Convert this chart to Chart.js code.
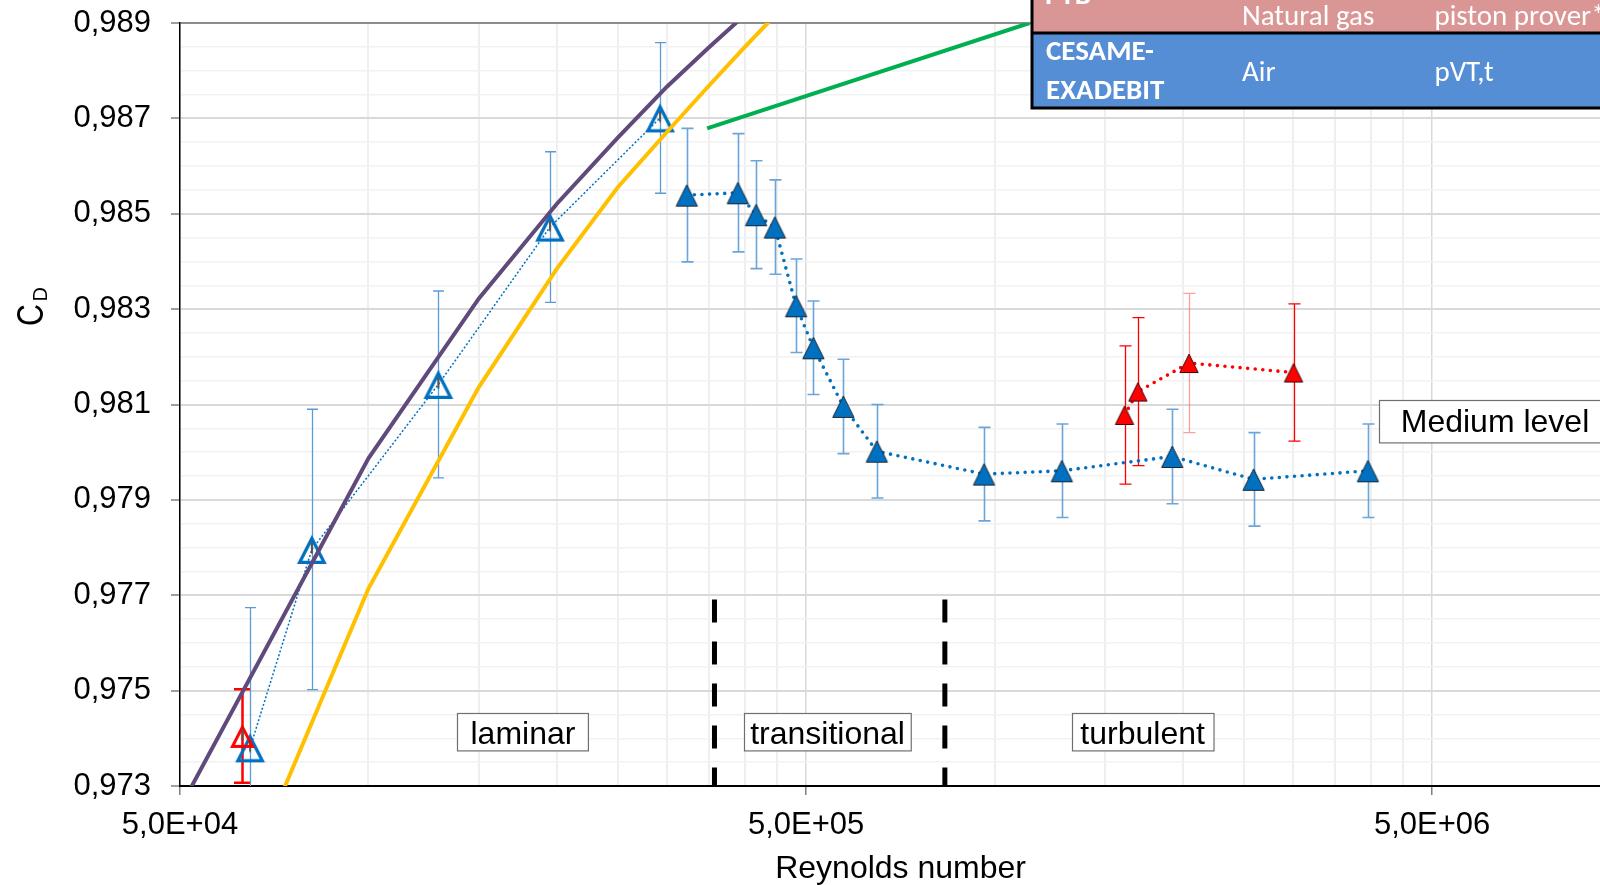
<!DOCTYPE html>
<html>
<head>
<meta charset="utf-8">
<script src="https://cdn.jsdelivr.net/npm/chart.js@4.4.1/dist/chart.umd.min.js"></script>
<style>
  html, body { margin: 0; padding: 0; background: #ffffff; }
  #wrap { width: 1600px; height: 885px; position: relative; }
  canvas { display: block; }
</style>
</head>
<body>
<div id="wrap"><canvas id="cd" width="1600" height="885"></canvas></div>
<script>
// Discharge coefficient C_D of the nozzle versus Reynolds number.

// Low Reynolds numbers, air (open blue triangles)
const reLowAir = [6.47e4, 8.12e4, 1.293e5, 1.95e5, 2.923e5];
const cdLowAir = [0.97380, 0.97796, 0.98142, 0.98472, 0.98701];
const uLowAir  = [0.00294, 0.00294, 0.00196, 0.00158, 0.00158];

// Single low Reynolds point (open red triangle)
const reLowGas = [6.29e4];
const cdLowGas = [0.97405];
const uLowGas  = [0.00098];

// CESAME-EXADEBIT, air (filled blue triangles)
const reAir = [3.224e5, 3.89e5, 4.16e5, 4.457e5, 4.82e5, 5.137e5, 5.735e5, 6.486e5,
               9.62e5, 1.281e6, 1.922e6, 2.593e6, 3.948e6];
const cdAir = [0.98539, 0.98544, 0.98498, 0.98472, 0.98307, 0.98219, 0.98096, 0.98002,
               0.97954, 0.97961, 0.97991, 0.97943, 0.97961];
const uAir  = [0.00140, 0.00124, 0.00113, 0.00099, 0.00098, 0.00098, 0.00099, 0.00098,
               0.00098, 0.00098, 0.00099, 0.00098, 0.00098];

// PTB, natural gas (filled red triangles)
const reGas = [1.613e6, 1.694e6, 2.045e6, 3.003e6];
const cdGas = [0.98078, 0.98127, 0.98187, 0.98167];
const uGas  = [0.00145, 0.00155, 0.00146, 0.00144];

// Reference curves
const reCurvePurple = [5e4, 1e5, 1.5e5, 2e5, 2.5e5, 3e5, 3.5e5, 4e5];
const cdCurvePurple = [0.97254, 0.97987, 0.98322, 0.98521, 0.98659, 0.98767, 0.98849, 0.98918];
const reCurveYellow = [5e4, 1e5, 1.5e5, 2e5, 2.5e5, 3e5, 3.5e5, 4e5, 4.5e5];
const cdCurveYellow = [0.96778, 0.97714, 0.98136, 0.98385, 0.98555, 0.98672, 0.98769, 0.98851, 0.98921];
const reCurveGreen  = [3.475e5, 1.137e6];
const cdCurveGreen  = [0.98679, 0.98900];

// Flow regime boundaries
const reRegimeBounds = [3.57e5, 8.33e5];
const cdRegimeSpan   = [0.97691, 0.973];

// Axis ticks
const xMin = 5e4, xMax = 9.27e6;
const yMin = 0.973, yMax = 0.989;
const xTickValues = [5e4, 5e5, 5e6];
const xTickLabels = ['5,0E+04', '5,0E+05', '5,0E+06'];
const yTickValues = [0.973, 0.975, 0.977, 0.979, 0.981, 0.983, 0.985, 0.987, 0.989];
const yTickLabels = ['0,973', '0,975', '0,977', '0,979', '0,981', '0,983', '0,985', '0,987', '0,989'];

// Facility table
const tableRows = [
  ['PTB', 'Natural gas', 'piston prover*'],
  ['CESAME-\nEXADEBIT', 'Air', 'pVT,t']
];

// Text boxes placed in data coordinates
const regimeBoxes = [
  { text: 'laminar',      re: 1.765e5, cd: 0.97413, padX: 13,  h: 37.4 },
  { text: 'transitional', re: 5.41e5,  cd: 0.97413, padX: 6,   h: 37.4 },
  { text: 'turbulent',    re: 1.724e6, cd: 0.97413, padX: 8.5, h: 37.4 },
  { text: 'Medium level', re: 6.30e6,  cd: 0.98066, padX: 22,  h: 42.4 }
];

const SANS = "'Liberation Sans', Arial, sans-serif";
const TABLE_FONT = "Carlito, Calibri, Lato, sans-serif";

const pts = (xs, ys) => xs.map((v, i) => ({ x: v, y: ys[i] }));
const near = (a, b) => Math.abs(a - b) <= Math.abs(b) * 1e-6;
const isMajorX = v => xTickValues.some(m => near(v, m));
const isMajorY = v => yTickValues.some(m => Math.abs(v - m) < 1e-7);

// Triangle marker images (bounding box centred on the value)
function triangleMarker(w, h, fill, stroke, lw, innerTick) {
  const m = 3;
  const c = document.createElement('canvas');
  c.width = Math.ceil(w) + 2 * m;
  c.height = Math.ceil(h) + 2 * m;
  const g = c.getContext('2d');
  const cx = c.width / 2;
  const top = (c.height - h) / 2 + (stroke ? lw * 1.05 : 0);
  const bot = (c.height + h) / 2 - (stroke ? lw / 2 : 0);
  const half = w / 2 - (stroke ? lw * 0.85 : 0);
  g.beginPath();
  g.moveTo(cx, top);
  g.lineTo(cx + half, bot);
  g.lineTo(cx - half, bot);
  g.closePath();
  if (fill) { g.fillStyle = fill; g.fill(); }
  if (stroke) { g.lineJoin = 'miter'; g.lineWidth = lw; g.strokeStyle = stroke; g.stroke(); }
  if (innerTick) {
    g.strokeStyle = innerTick; g.lineWidth = 2;
    g.beginPath(); g.moveTo(cx, c.height / 2 - 7); g.lineTo(cx, c.height / 2 + 4); g.stroke();
  }
  return c;
}

const markOpenBlue  = triangleMarker(30, 29, null, '#0070C0', 3.3, '#555555');
const markOpenRed   = triangleMarker(25, 24, null, '#FF0000', 3, '#555555');
const markFillBlue  = triangleMarker(23, 23, '#0070C0', '#1d2733', 1);
const markFillRed   = triangleMarker(20, 20, '#FF0000', '#3a0a0a', 1);

// Vertical uncertainty bars drawn through the scales
const errorBarPlugin = {
  id: 'errorBars',
  beforeDatasetsDraw(chart) {
    const { ctx, chartArea: a } = chart;
    const xs = chart.scales.x, ys = chart.scales.y;
    ctx.save();
    ctx.beginPath();
    ctx.rect(a.left, a.top - 1, a.right - a.left, a.bottom - a.top + 1);
    ctx.clip();
    chart.data.datasets.forEach(ds => {
      if (!ds.errors) return;
      ds.data.forEach((p, i) => {
        const px = Math.round(xs.getPixelForValue(p.x)) + 0.5;
        const yTop = ys.getPixelForValue(p.y + ds.errors[i]);
        const yBot = ys.getPixelForValue(p.y - ds.errors[i]);
        const hw = ds.errorCap / 2;
        ctx.strokeStyle = ds.errorColors ? ds.errorColors[i] : ds.errorColor;
        ctx.lineWidth = ds.errorWidth;
        ctx.beginPath();
        ctx.moveTo(px, yTop); ctx.lineTo(px, yBot);
        ctx.moveTo(px - hw, yTop); ctx.lineTo(px + hw, yTop);
        ctx.moveTo(px - hw, yBot); ctx.lineTo(px + hw, yBot);
        ctx.stroke();
      });
    });
    ctx.restore();
  }
};

// Text boxes, axis titles and the facility table
const overlayPlugin = {
  id: 'overlay',
  afterDraw(chart) {
    const { ctx } = chart;
    const xs = chart.scales.x, ys = chart.scales.y;
    ctx.save();

    ctx.font = '32px ' + SANS;
    regimeBoxes.forEach(b => {
      const cx = xs.getPixelForValue(b.re);
      const cy = ys.getPixelForValue(b.cd);
      const tw = ctx.measureText(b.text).width;
      const w = tw + 2 * b.padX;
      const x0 = Math.round(cx - w / 2) + 0.5, y0 = Math.round(cy - b.h / 2) + 0.5;
      ctx.fillStyle = '#ffffff';
      ctx.fillRect(x0, y0, w, b.h);
      ctx.strokeStyle = '#6f6f6f';
      ctx.lineWidth = 1.2;
      ctx.strokeRect(x0, y0, w, b.h);
      ctx.fillStyle = '#000000';
      ctx.textAlign = 'center';
      ctx.textBaseline = 'alphabetic';
      ctx.fillText(b.text, cx, cy + 11.5);
    });

    // x axis title
    ctx.font = '32px ' + SANS;
    ctx.fillStyle = '#000000';
    ctx.textAlign = 'center';
    ctx.textBaseline = 'alphabetic';
    ctx.fillText('Reynolds number', 900.6, 878.3);

    // y axis title C with subscript D
    ctx.save();
    ctx.translate(42.7, 326);
    ctx.rotate(-Math.PI / 2);
    ctx.textAlign = 'left';
    ctx.save();
    ctx.scale(0.84, 1);
    ctx.font = '36px ' + SANS;
    ctx.fillText('C', 0, 0);
    ctx.restore();
    ctx.font = '20px ' + SANS;
    ctx.fillText('D', 24.4, 4);
    ctx.restore();

    // facility table
    const tx = 1032, rowMid = 33, rowBot = 108;
    ctx.fillStyle = '#DA9694';
    ctx.fillRect(tx, 0, 1600 - tx, rowMid);
    ctx.fillStyle = '#558ED5';
    ctx.fillRect(tx, rowMid, 1600 - tx, rowBot - rowMid);
    ctx.strokeStyle = '#000000';
    ctx.lineWidth = 3;
    ctx.beginPath();
    ctx.moveTo(tx, 0); ctx.lineTo(tx, rowBot); ctx.lineTo(1600, rowBot);
    ctx.moveTo(tx, rowMid); ctx.lineTo(1600, rowMid);
    ctx.stroke();

    ctx.fillStyle = '#ffffff';
    ctx.textAlign = 'left';
    ctx.textBaseline = 'alphabetic';
    const colX = [1046, 1242, 1434.4];
    // first row sits mostly above the visible area
    ctx.font = 'bold 29px ' + TABLE_FONT;
    ctx.fillText(tableRows[0][0], colX[0] - 1, 4);
    ctx.font = '29px ' + TABLE_FONT;
    ctx.fillText(tableRows[0][1], colX[1], 25);
    ctx.fillText(tableRows[0][2], colX[2], 25);
    // second row
    ctx.font = 'bold 29px ' + TABLE_FONT;
    const lines = tableRows[1][0].split('\n');
    ctx.fillText(lines[0], colX[0], 60);
    ctx.fillText(lines[1], colX[0], 99.3);
    ctx.font = '29px ' + TABLE_FONT;
    ctx.fillText(tableRows[1][1], colX[1], 80.7);
    ctx.fillText(tableRows[1][2], colX[2], 80.7);

    ctx.restore();
  }
};

Chart.defaults.font.family = SANS;
Chart.defaults.color = '#000000';

const dotted = { borderDash: [0, 7.6], borderCapStyle: 'round', borderWidth: 3.6 };

new Chart(document.getElementById('cd'), {
  type: 'scatter',
  data: {
    datasets: [
      {
        label: 'Air, CESAME-EXADEBIT',
        data: pts(reAir, cdAir),
        showLine: true, borderColor: '#0070C0', ...dotted,
        pointStyle: markFillBlue, pointRadius: 11,
        errors: uAir, errorColor: 'rgba(91,155,213,0.9)', errorWidth: 1.6, errorCap: 12,
        order: 1
      },
      {
        label: 'Natural gas, PTB',
        data: pts(reGas, cdGas),
        showLine: true, borderColor: '#FF0000', ...dotted,
        pointStyle: markFillRed, pointRadius: 10,
        errors: uGas,
        errorColors: ['#FF0000', '#FF0000', 'rgba(255,80,80,0.55)', '#FF0000'],
        errorWidth: 1.3, errorCap: 12,
        order: 0
      },
      {
        label: 'Green curve',
        data: pts(reCurveGreen, cdCurveGreen),
        showLine: true, borderColor: '#00B050', borderWidth: 4, pointRadius: 0, clip: 0,
        order: 2
      },
      {
        label: 'Yellow curve',
        data: pts(reCurveYellow, cdCurveYellow),
        showLine: true, borderColor: '#FFC000', borderWidth: 4, pointRadius: 0, clip: 0,
        order: 3
      },
      {
        label: 'Purple curve',
        data: pts(reCurvePurple, cdCurvePurple),
        showLine: true, borderColor: '#604A7B', borderWidth: 4, pointRadius: 0, clip: 0,
        order: 4
      },
      {
        label: 'Low Re, open red',
        data: pts(reLowGas, cdLowGas),
        showLine: false,
        pointStyle: markOpenRed, pointRadius: 12,
        errors: uLowGas, errorColor: '#FF0000', errorWidth: 2.5, errorCap: 17,
        order: 5
      },
      {
        label: 'Low Re, open blue',
        data: pts(reLowAir, cdLowAir),
        showLine: true, borderColor: '#0070C0', borderWidth: 1.5, borderDash: [2, 2],
        pointStyle: markOpenBlue, pointRadius: 14,
        errors: uLowAir, errorColor: '#5B9BD5', errorWidth: 1.3, errorCap: 11,
        order: 6
      },
      {
        label: 'Regime boundary 1',
        data: pts([reRegimeBounds[0], reRegimeBounds[0]], cdRegimeSpan),
        showLine: true, borderColor: '#000000', borderWidth: 5, borderDash: [23, 19],
        pointRadius: 0, clip: 0, order: 7
      },
      {
        label: 'Regime boundary 2',
        data: pts([reRegimeBounds[1], reRegimeBounds[1]], cdRegimeSpan),
        showLine: true, borderColor: '#000000', borderWidth: 5, borderDash: [23, 19],
        pointRadius: 0, clip: 0, order: 7
      }
    ]
  },
  options: {
    responsive: false,
    animation: false,
    devicePixelRatio: 1,
    layout: { autoPadding: false, padding: { top: 23, right: 0, bottom: 0, left: 0 } },
    plugins: {
      legend: { display: false },
      tooltip: { enabled: false }
    },
    scales: {
      x: {
        type: 'logarithmic',
        position: 'bottom',
        min: xMin, max: xMax,
        afterBuildTicks: axis => {
          const t = [];
          for (let d = xMin; d <= xMax; d *= 10) {
            for (let k = 1; k <= 9; k++) {
              const v = d * k;
              if (v <= xMax) t.push({ value: v });
            }
          }
          axis.ticks = t;
        },
        afterFit: s => {
          s.height = 99;
          s.paddingLeft = 0; s.paddingRight = 0; s.paddingTop = 0; s.paddingBottom = 0;
        },
        ticks: {
          autoSkip: false, maxRotation: 0, minRotation: 0, padding: 12,
          font: { size: 31 }, color: '#000000',
          callback: v => {
            const i = xTickValues.findIndex(m => near(v, m));
            return i >= 0 ? xTickLabels[i] : '';
          }
        },
        grid: {
          color: c => (c.tick && isMajorX(c.tick.value)) ? '#d9d9d9' : '#efefef',
          lineWidth: c => (c.tick && isMajorX(c.tick.value)) ? 1.5 : 2,
          tickLength: 9,
          tickColor: c => (c.tick && isMajorX(c.tick.value)) ? '#7f7f7f' : 'rgba(0,0,0,0)',
          tickWidth: 1.5
        },
        border: { color: '#000000', width: 2 }
      },
      y: {
        type: 'linear',
        min: yMin, max: yMax,
        afterBuildTicks: axis => {
          const t = [];
          for (let i = 0; i <= 32; i++) t.push({ value: (973 + i * 0.5) / 1000 });
          axis.ticks = t;
        },
        afterFit: s => {
          s.width = 180;
          s.paddingLeft = 0; s.paddingRight = 0; s.paddingTop = 0; s.paddingBottom = 0;
        },
        ticks: {
          autoSkip: false, padding: 20,
          font: { size: 31 }, color: '#000000',
          callback: v => {
            const i = yTickValues.findIndex(m => Math.abs(v - m) < 1e-7);
            return i >= 0 ? yTickLabels[i] : '';
          }
        },
        grid: {
          color: c => {
            if (!c.tick) return '#efefef';
            if (Math.abs(c.tick.value - yMax) < 1e-7) return '#8c8c8c';
            return isMajorY(c.tick.value) ? '#d9d9d9' : '#f2f2f2';
          },
          lineWidth: c => (c.tick && isMajorY(c.tick.value)) ? 2 : 1.5,
          tickLength: 9,
          tickColor: c => (c.tick && isMajorY(c.tick.value)) ? '#7f7f7f' : 'rgba(0,0,0,0)',
          tickWidth: 1.5
        },
        border: { color: '#000000', width: 1.5 }
      }
    }
  },
  plugins: [errorBarPlugin, overlayPlugin]
});
</script>
</body>
</html>
